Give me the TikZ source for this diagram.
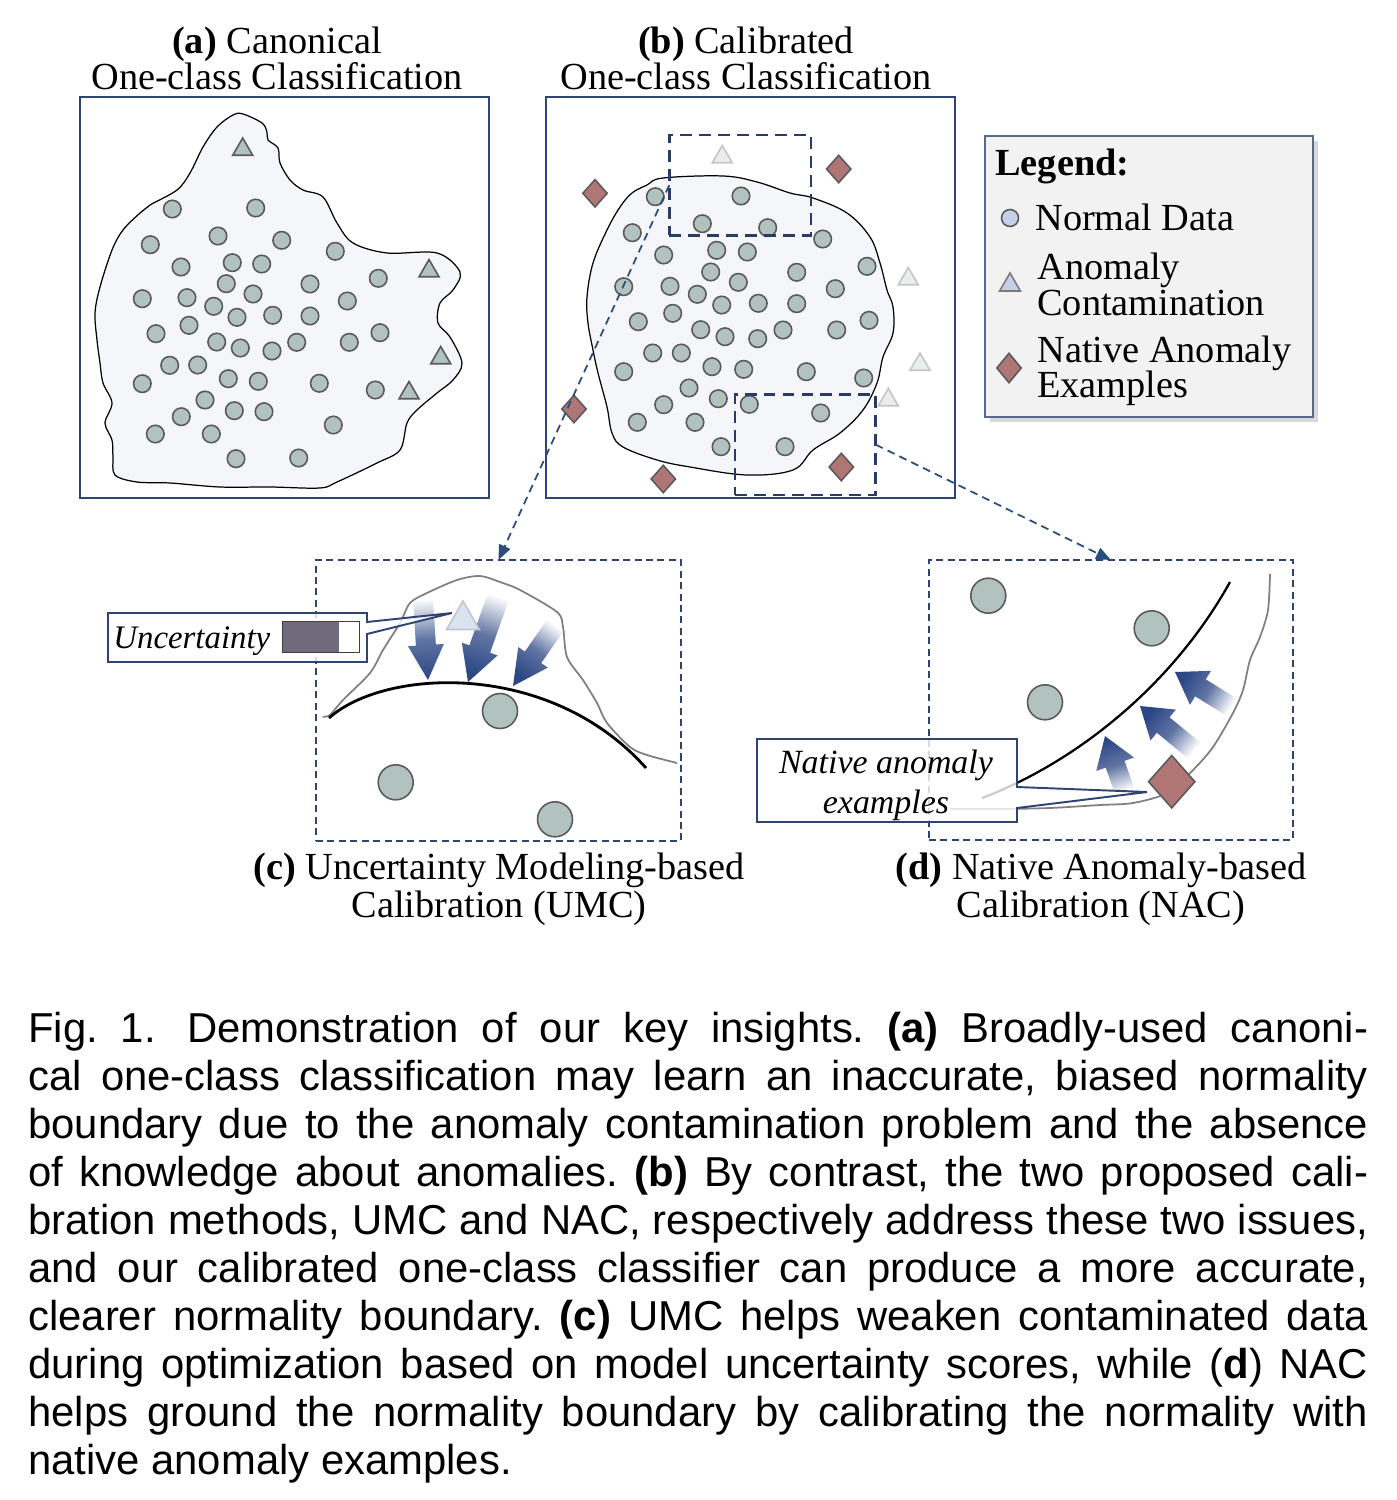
\documentclass[tikz,border=0pt]{standalone}
\usepackage{fontspec}
\setmainfont{Liberation Serif}
\setsansfont{Liberation Sans}
\usetikzlibrary{calc,shapes.geometric,arrows.meta,shadows}
\definecolor{navy}{HTML}{2E4472}
\definecolor{navyb}{HTML}{2A3B66}
\definecolor{connblue}{HTML}{2B4D7E}
\definecolor{dotfill}{HTML}{B1C2BF}
\definecolor{dotdraw}{HTML}{5A5A5A}
\definecolor{blobfill}{HTML}{F4F6FA}
\definecolor{faintfill}{HTML}{E9EEEC}
\definecolor{faintdraw}{HTML}{C4C6C5}
\definecolor{diafill}{HTML}{B07676}
\definecolor{legfill}{HTML}{F2F2F2}
\definecolor{legblue}{HTML}{C5D1E8}
\definecolor{arrownavy}{HTML}{2C4785}
\definecolor{uncbar}{HTML}{6F6B7D}
\definecolor{tric}{HTML}{DCE3F0}
\definecolor{tricdraw}{HTML}{C0C4CC}
\newcommand\garrow[7]{%
  \coordinate (#1T) at (#2);
  \coordinate (#1P) at (#3);
  \coordinate (#1H) at ($(#1P)!#7!(#1T)$);
  \shade[top color=white, bottom color=arrownavy, middle color=arrownavy!75, shading angle=#4]
   ($(#1T)!#5!90:(#1P)$) -- ($(#1H)!#5!90:(#1P)$) -- ($(#1H)!#6!90:(#1P)$) -- (#1P) --
   ($(#1H)!#6!-90:(#1P)$) -- ($(#1H)!#5!-90:(#1P)$) -- ($(#1T)!#5!-90:(#1P)$) -- cycle;
}
\begin{document}
\frenchspacing
\begin{tikzpicture}[x=0.02cm,y=-0.02cm,
  panel/.style={draw=navy, line width=1.1pt, fill=white, minimum width=8.18cm, minimum height=8.02cm, outer sep=0, inner sep=0},
  dot/.style={circle, draw=dotdraw, fill=dotfill, line width=0.9pt, minimum size=0.35cm, inner sep=0},
  bigdot/.style={dot, minimum size=0.7cm},
  ctri/.style={regular polygon, regular polygon sides=3, draw=dotdraw, fill=dotfill, line width=0.9pt, minimum size=0.46cm, inner sep=0},
  ftri/.style={ctri, draw=faintdraw, fill=faintfill},
  dia/.style={diamond, draw=dotdraw, fill=diafill, line width=0.9pt, minimum width=0.5cm, minimum height=0.56cm, inner sep=0},
  zoombox/.style={draw=navyb, line width=1.4pt, dash pattern=on 6.8pt off 4pt, outer sep=0, inner sep=0},
  subbox/.style={draw=navy, line width=0.8pt, dash pattern=on 4pt off 2.5pt, outer sep=0, inner sep=0},
  conn/.style={draw=connblue, line width=1pt, dash pattern=on 4.5pt off 3pt, -{Triangle[length=0.3cm,width=0.24cm]}},
  title/.style={font=\fontsize{21.8}{19.3}\selectfont, anchor=base, inner sep=0},
  firstline/.style={text depth=0pt},
  legtext/.style={title, anchor=base west},
  lab/.style={font=\fontsize{19.3}{19.3}\selectfont\itshape, inner sep=0},
  captext/.style={font=\sffamily\fontsize{23.8}{27.2}\selectfont, anchor=base west, inner sep=0},
  blob/.style={draw=black, line width=0.7pt, fill=blobfill},
  callout/.style={draw=navy, line width=1.1pt, fill=white, fill opacity=0.8}
]
\useasboundingbox (0,0) rectangle (1396,1500);
\fill[white] (0,0) rectangle (1396,1500);

% ---------- titles ----------
\node[title, firstline] (ta1) at (277,54) {\textbf{(a)} Canonical};
\node[title] (ta2) at (277,90) {One-class Classification};
\node[title, firstline] (tb1) at (746,54) {\textbf{(b)} Calibrated};
\node[title] (tb2) at (746,90) {One-class Classification};

% ---------- panel (a) ----------
\node[panel] (boxa) at (284.5,297.5) {};
\draw[blob] plot[smooth cycle, tension=0.55] coordinates {
(233,115) (243,114) (262,123) (267,132) (268,140) (278,148) (280,163) (290,180) (303,190) (323,197)
(337,223) (353,243) (387,253) (437,253) (460,272) (453,290) (440,303) (438,323) (450,337) (462,363)
(453,380) (437,393) (417,410) (407,423) (400,450) (377,463) (337,482) (320,488) (270,487) (220,487)
(170,483) (137,482) (115,475) (113,457) (112,440) (105,423) (112,403) (103,383) (100,363) (97,340)
(95,313) (100,287) (112,250) (123,230) (140,213) (150,205) (177,190) (190,173) (203,147) (217,127)};
\foreach \x/\y [count=\i] in {172.3/209, 255.7/208, 150.3/244.7, 218/236, 281.7/240.3, 335.3/251.3, 181/267,
 232.3/262.7, 261.7/264, 378.3/278.3, 226.3/283.7, 310/284, 142.3/298.7, 187/297.7, 253/294, 213.7/306.3,
 347.3/301, 237/317.3, 272.7/315.3, 310/316, 156/333.7, 189/325.3, 380/332.7, 216.7/342, 240.3/348,
 272/351, 296.7/342.3, 349.3/342.3, 169.7/365.3, 197.7/365, 142.3/383.7, 228.3/378.7, 258.3/381.3,
 319.3/383.3, 375.3/390, 205/400, 181.3/416.7, 234.3/410.7, 264/411.7, 333.3/425, 155.3/434, 211.3/434,
 236/458.7, 298.7/458}
  \node[dot] (a\i) at (\x,\y) {};
\foreach \x/\y [count=\i] in {242.7/149.5, 429/271, 440.7/358, 409/393}
  \node[ctri] (at\i) at (\x,\y) {};

% ---------- panel (b) ----------
\node[panel] (boxb) at (750.5,297.5) {};
\draw[blob] plot[smooth cycle, tension=0.6] coordinates {
(663,178) (723,176) (757,182) (790,193) (813,198) (847,213) (870,237) (880,263) (887,290) (893,307)
(893,333) (883,357) (877,383) (863,410) (840,433) (813,450) (793,470) (747,475) (690,467) (657,460)
(623,447) (612,433) (607,407) (598,373) (593,350) (588,323) (587,297) (593,263) (607,230) (620,207)
(632,193) (647,185)};
\foreach \x/\y [count=\i] in {655.3/196.7, 741/196, 702.3/223.7, 767.7/227.7, 632.3/232.7, 822.7/239,
 663.7/255, 716.7/250.3, 747.3/252, 867/266.3, 710.7/272, 796.7/272.3, 738.3/282.3, 623.7/286.7,
 670/286.3, 835.3/288.7, 697.3/294.3, 721.7/305, 758.3/303.3, 796.7/303.7, 638.3/321.7, 672.7/313.3,
 869/320.3, 700.7/329.7, 725/336.7, 757.7/338.7, 783/330, 836.7/330, 652.7/353, 681.3/353, 623.7/371.7,
 712/366.7, 743.7/369.3, 806.3/371.7, 863.7/378, 689/388, 663.7/404.7, 718.3/398.7, 749.3/404.3,
 820.7/413, 637.3/422.3, 695/422.3, 721/446.7, 785/446.7}
  \node[dot] (b\i) at (\x,\y) {};
\foreach \x/\y [count=\i] in {722.3/157, 908.3/279, 920/364.5, 888.3/400}
  \node[ftri] (bt\i) at (\x,\y) {};
\foreach \x/\y [count=\i] in {595/193.3, 838.7/169, 574/409, 663.3/479, 841.3/467}
  \node[dia] (bd\i) at (\x,\y) {};
\node[zoombox, minimum width=2.83cm, minimum height=2.006cm] (zoomU) at (740,185.2) {};
\node[zoombox, minimum width=2.814cm, minimum height=2.014cm] (zoomN) at (805.35,444.65) {};

% ---------- legend ----------
\node[draw=navy!80, line width=0.8pt, fill=legfill, minimum width=6.56cm, minimum height=5.62cm,
  inner sep=0, outer sep=0, drop shadow={shadow xshift=3pt, shadow yshift=-3pt, opacity=0.3}] (legend) at (1149,276.5) {};
\node[legtext] (legt) at (995,176) {\textbf{Legend:}};
\node[dot, fill=legblue, minimum size=0.34cm] (legc) at (1010,218) {};
\node[legtext] (legc1) at (1035,231) {Normal Data};
\node[ctri, fill=legblue, draw=dotdraw!80, minimum size=0.48cm] (legtr) at (1010,285) {};
\node[legtext, firstline] (legtr1) at (1037,280) {Anomaly};
\node[legtext] (legtr2) at (1037,316) {Contamination};
\node[dia, minimum width=0.5cm, minimum height=0.6cm] (legd) at (1009,368) {};
\node[legtext, firstline] (legd1) at (1037,362) {Native Anomaly};
\node[legtext] (legd2) at (1037,397) {Examples};

% ---------- panel (c) ----------
\node[subbox, minimum width=7.3cm, minimum height=5.62cm] (boxc) at (498.5,700.5) {};
\garrow{ca}{423,598}{428,680}{3.6}{0.2cm}{0.36cm}{0.7cm}
\garrow{cb}{500,592}{468,682}{-19.5}{0.22cm}{0.38cm}{0.7cm}
\garrow{cc}{557,623}{513,686}{-35}{0.2cm}{0.36cm}{0.7cm}
\draw[gray, line width=1pt] plot[smooth, tension=0.5] coordinates {(322.7,716.7) (330,715) (343,700) (370,673)
 (383,650) (400,623) (410,603) (427,593) (457,580) (480,576) (500,582) (520,590) (557,612) (563,627)
 (567,657) (583,680) (597,703) (607,723) (630,747) (647,755) (677,763)};
\draw[black, line width=1.6pt] (329,718) .. controls (385,668) and (550,660) .. (646,768);
\node[bigdot] (c1) at (500,711) {};
\node[bigdot] (c2) at (395.7,782.3) {};
\node[bigdot] (c3) at (555,819.3) {};
\node[ctri, fill=tric, draw=tricdraw, minimum size=0.76cm] (ctri) at (463,620) {};
\draw[callout] (367,613) -- (108,613) -- (108,662) -- (367,662) -- (367,634) -- (452,613) -- (367,622) -- cycle;
\node[lab, anchor=base west, font=\fontsize{18.7}{18.7}\selectfont\itshape] (unc) at (113,648) {Uncertainty};
\fill[uncbar] (282.7,621.7) rectangle (339.3,652.7);
\draw[black!75, line width=0.6pt] (282.7,621.7) rectangle (359.3,652.7);
\node[title, firstline] (tc1) at (499,879) {\textbf{(c)} Uncertainty Modeling-based};
\node[title] (tc2) at (499,917) {Calibration (UMC)};

% ---------- panel (d) ----------
\node[subbox, minimum width=7.28cm, minimum height=5.6cm] (boxd) at (1111,700) {};
\garrow{da}{1125,792}{1105,736}{-160.3}{0.2cm}{0.4cm}{0.6cm}
\garrow{db}{1196,752}{1140,706}{-129.4}{0.2cm}{0.4cm}{0.6cm}
\garrow{dc}{1233,708}{1175,672}{-121.8}{0.2cm}{0.4cm}{0.6cm}
\draw[gray, line width=1pt] plot[smooth, tension=0.5] coordinates {(1270,574) (1268,610) (1260,637) (1250,660)
 (1243,690) (1233,713) (1213,747) (1193,770) (1167,793) (1133,803) (1100,805) (1050,808) (1000,809) (950,809)};
\draw[black, line width=1.3pt] (982,798) .. controls (1070,765) and (1170,690) .. (1230,582);
\node[bigdot] (d1) at (988.3,595.7) {};
\node[bigdot] (d2) at (1151.7,628.3) {};
\node[bigdot] (d3) at (1045,702.3) {};
\node[dia, minimum width=0.94cm, minimum height=1.06cm] (ddia) at (1171.7,781.7) {};
\draw[callout] (1017,739) -- (757,739) -- (757,822) -- (1017,822) -- (1017,808) -- (1147,792) -- (1017,787) -- cycle;
\node[lab, anchor=base, firstline] (nat1) at (886,773) {Native anomaly};
\node[lab, anchor=base] (nat2) at (886,813) {examples};
\node[title, firstline] (td1) at (1101,879) {\textbf{(d)} Native Anomaly-based};
\node[title] (td2) at (1101,917) {Calibration (NAC)};

% ---------- connectors ----------
\draw[conn] (zoomU.west) -- (boxc.north);
\draw[conn] (zoomN.east) -- (boxd.north);

% ---------- caption ----------
\node[captext] (cap1) at (28,1042) {\makebox[26.8cm][s]{Fig.~1.\hspace{0.2em} Demonstration of our key insights. \textbf{(a)} Broadly-used canoni-}};
\node[captext] (cap2) at (28,1090) {\makebox[26.8cm][s]{cal one-class classification may learn an inaccurate, biased normality}};
\node[captext] (cap3) at (28,1138) {\makebox[26.8cm][s]{boundary due to the anomaly contamination problem and the absence}};
\node[captext] (cap4) at (28,1186) {\makebox[26.8cm][s]{of knowledge about anomalies. \textbf{(b)} By contrast, the two proposed cali-}};
\node[captext] (cap5) at (28,1234) {\makebox[26.8cm][s]{bration methods, UMC and NAC, respectively address these two issues,}};
\node[captext] (cap6) at (28,1282) {\makebox[26.8cm][s]{and our calibrated one-class classifier can produce a more accurate,}};
\node[captext] (cap7) at (28,1330) {\makebox[26.8cm][s]{clearer normality boundary. \textbf{(c)} UMC helps weaken contaminated data}};
\node[captext] (cap8) at (28,1378) {\makebox[26.8cm][s]{during optimization based on model uncertainty scores, while (\textbf{d}) NAC}};
\node[captext] (cap9) at (28,1426) {\makebox[26.8cm][s]{helps ground the normality boundary by calibrating the normality with}};
\node[captext] (cap10) at (28,1474) {native anomaly examples.};
\end{tikzpicture}
\end{document}
